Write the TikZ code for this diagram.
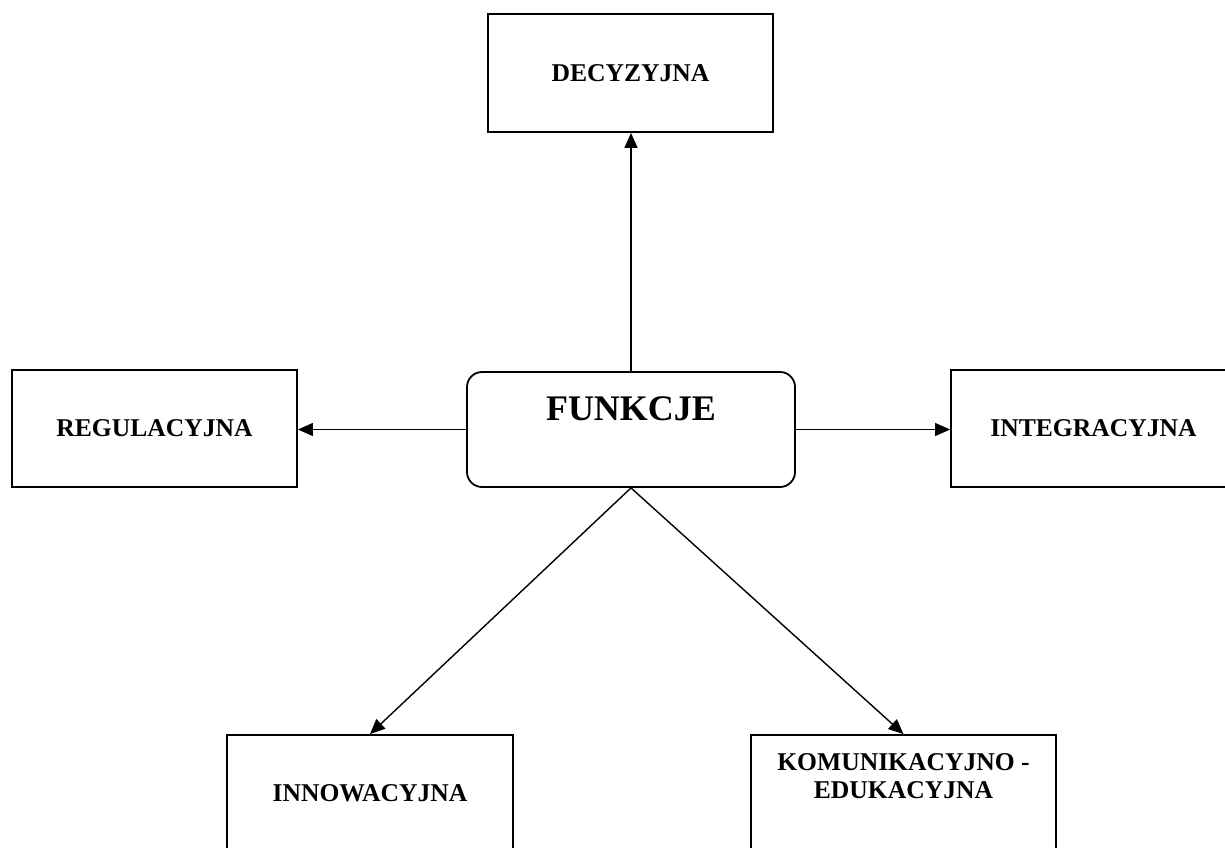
\documentclass[tikz,border=0pt]{standalone}
\usepackage{fontspec}
\setmainfont{Liberation Serif}
\usetikzlibrary{arrows.meta}

\tikzset{
	funbox/.style={draw, line width=0.9pt, minimum height=58.5pt, align=center, inner sep=2pt,
		font=\bfseries\fontsize{12.8}{14}\selectfont},
	arr/.style={line width=0.7pt, -{Triangle[length=7.5pt, width=6.5pt]}},
}

\begin{document}
\begin{tikzpicture}[x=0.5pt, y=-0.5pt]
			\useasboundingbox (0,0) rectangle (1225,847);
			
			\coordinate (1) at (631,429.5);
			\coordinate (2) at (630.5,73);
			\coordinate (3) at (154.5,428.5);
			\coordinate (4) at (1093.5,428.5);
			\coordinate (5) at (370,793.5);
			\coordinate (6) at (903.5,793.5);
			
			% srodek
			\node[funbox, rounded corners=7.5pt, minimum width=164pt, minimum height=57.5pt, text depth=21pt,
				font=\bfseries\fontsize{18}{20}\selectfont] (funk) at (1) {FUNKCJE};
			
			\node[funbox, minimum width=142.5pt, minimum height=59pt] (dec) at (2) {DECYZYJNA};
			\node[funbox, minimum width=142.5pt] (reg) at (3) {REGULACYJNA};
			\node[funbox, minimum width=142.5pt] (integ) at (4) {INTEGRACYJNA};
			\node[funbox, minimum width=143pt] (innow) at (5) {INNOWACYJNA};
			\node[funbox, minimum width=152.5pt, text depth=17.5pt] (komun) at (6) {KOMUNIKACYJNO -\\EDUKACYJNA};
			
			\draw[arr] (funk.north)--(funk.north |- dec.south);
			\draw[arr] (funk.west)--(funk.west -| reg.east);
			\draw[arr] (funk.east)--(funk.east -| integ.west);
			\draw[arr] (funk.south)--(innow.north);
			\draw[arr] (funk.south)--(komun.north);
\end{tikzpicture}
\end{document}
